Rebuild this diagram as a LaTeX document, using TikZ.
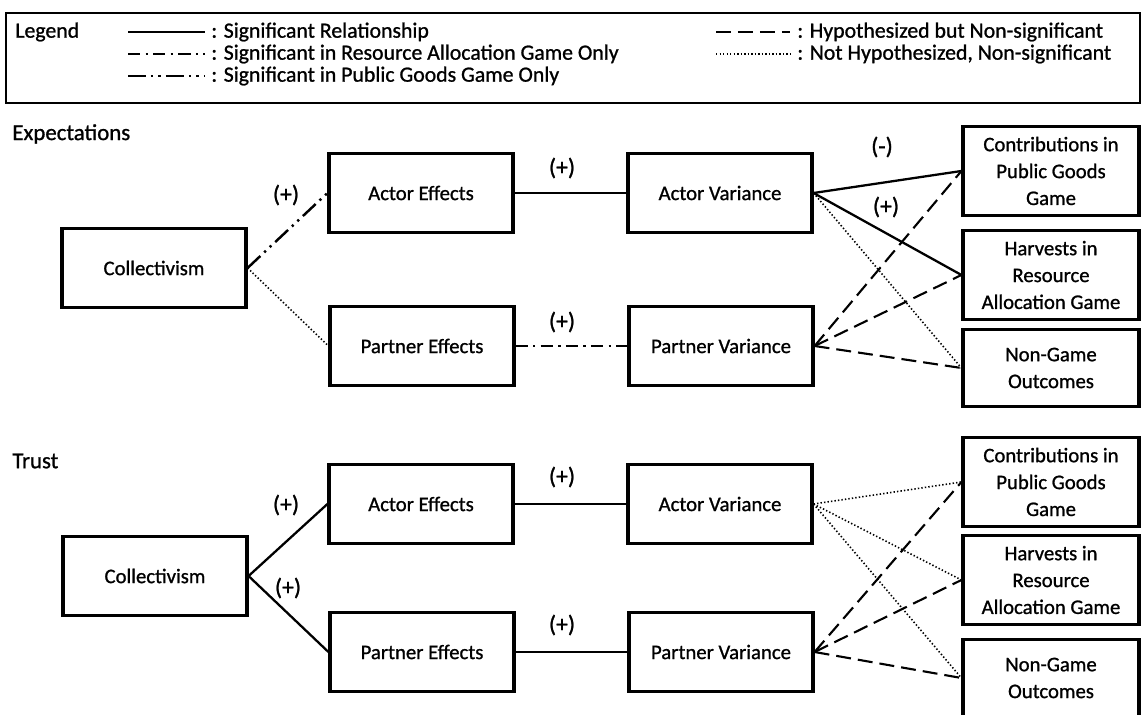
\documentclass[tikz,border=0pt]{standalone}
\usepackage{fontspec}
\setmainfont{Carlito}[FakeBold=1]
\usetikzlibrary{positioning}
\tikzset{
    box/.style={draw, line width=1.8pt, align=center, inner sep=0pt,
        minimum width=3.68cm, minimum height=1.58cm,
        font=\fontsize{11.8}{15.3}\selectfont},
    outbox/.style={box, minimum width=3.52cm, minimum height=1.78cm},
    ngbox/.style={box, minimum width=3.52cm, minimum height=1.54cm},
    head/.style={anchor=west, inner sep=0pt, font=\fontsize{13}{15}\selectfont},
    lbl/.style={inner sep=0pt, font=\fontsize{13.5}{15}\selectfont},
    legtext/.style={anchor=west, inner sep=0pt, font=\fontsize{12.4}{14}\selectfont},
    sig/.style={line width=1.3pt},
    hyp/.style={line width=1.2pt, dash pattern=on 8.5pt off 4pt},
    nohyp/.style={line width=0.9pt, dash pattern=on 0.8pt off 1.2pt},
    resonly/.style={line width=1.4pt, dash pattern=on 7pt off 3pt on 1.3pt off 3pt},
    pubonly/.style={line width=1.4pt, dash pattern=on 10pt off 3pt on 1.3pt off 3pt on 1.3pt off 3pt},
}

\begin{document}
\begin{tikzpicture}[x=0.02cm, y=-0.02cm]
        \useasboundingbox (0,0) rectangle (1142,715);

        % Legend
        \draw[line width=1.1pt] (6,13) rectangle (1140,103);
        \node[legtext] (leg) at (15,32) {Legend};
        \draw[sig] (128,32) -- (205,32);
        \node[legtext] at (211,32) {: Significant Relationship};
        \draw[resonly] (128,54) -- (205,54);
        \node[legtext] at (211,54) {: Significant in Resource Allocation Game Only};
        \draw[pubonly] (128,76) -- (205,76);
        \node[legtext] at (211,76) {: Significant in Public Goods Game Only};
        \draw[hyp] (716,32) -- (790,32);
        \node[legtext] at (797,32) {: Hypothesized but Non-significant};
        \draw[nohyp] (716,54) -- (790,54);
        \node[legtext] at (797,54) {: Not Hypothesized, Non-significant};

        % Expectations
        \node[head] (exp) at (12,134) {Expectations};
        \node[box] (col1) at (154,268) {Collectivism};
        \node[box] (ae1) at (421,193) {Actor Effects};
        \node[box] (pe1) at (422,346) {Partner Effects};
        \node[box] (av1) at (720,193) {Actor Variance};
        \node[box] (pv1) at (721,346) {Partner Variance};
        \node[outbox] (con1) at (1051,171) {Contributions in\\Public Goods\\Game};
        \node[outbox] (har1) at (1051,275) {Harvests in\\Resource\\Allocation Game};
        \node[ngbox] (ng1) at (1051,368) {Non-Game\\Outcomes};

        \path
        (col1.east) edge[pubonly] (ae1.west)
                    edge[nohyp] (pe1.west)
        (ae1) edge[sig] (av1)
        (pe1) edge[resonly] (pv1)
        (av1.east) edge[sig] (con1.west)
                   edge[sig] (har1.west)
                   edge[nohyp] (ng1.west)
        (pv1.east) edge[hyp] (con1.west)
                   edge[hyp] (har1.west)
                   edge[hyp] (ng1.west);

        \node[lbl] at (286,195) {(+)};
        \node[lbl] at (562,168) {(+)};
        \node[lbl] at (562,322) {(+)};
        \node[lbl] at (882,147) {(-)};
        \node[lbl] at (886,207) {(+)};

        % Trust
        \node[head] (tru) at (12,461) {Trust};
        \node[box] (col2) at (155,576) {Collectivism};
        \node[box] (ae2) at (421,504) {Actor Effects};
        \node[box] (pe2) at (422,652) {Partner Effects};
        \node[box] (av2) at (720,504) {Actor Variance};
        \node[box] (pv2) at (721,652) {Partner Variance};
        \node[outbox] (con2) at (1051,482) {Contributions in\\Public Goods\\Game};
        \node[outbox] (har2) at (1051,580) {Harvests in\\Resource\\Allocation Game};
        \node[ngbox] (ng2) at (1051,678) {Non-Game\\Outcomes};

        \path
        (col2.east) edge[sig] (ae2.west)
                    edge[sig] (pe2.west)
        (ae2) edge[sig] (av2)
        (pe2) edge[sig] (pv2)
        (av2.east) edge[nohyp] (con2.west)
                   edge[nohyp] (har2.west)
                   edge[nohyp] (ng2.west)
        (pv2.east) edge[hyp] (con2.west)
                   edge[hyp] (har2.west)
                   edge[hyp] (ng2.west);

        \node[lbl] at (286,505) {(+)};
        \node[lbl] at (288,588) {(+)};
        \node[lbl] at (562,477) {(+)};
        \node[lbl] at (562,625) {(+)};
\end{tikzpicture}
\end{document}
